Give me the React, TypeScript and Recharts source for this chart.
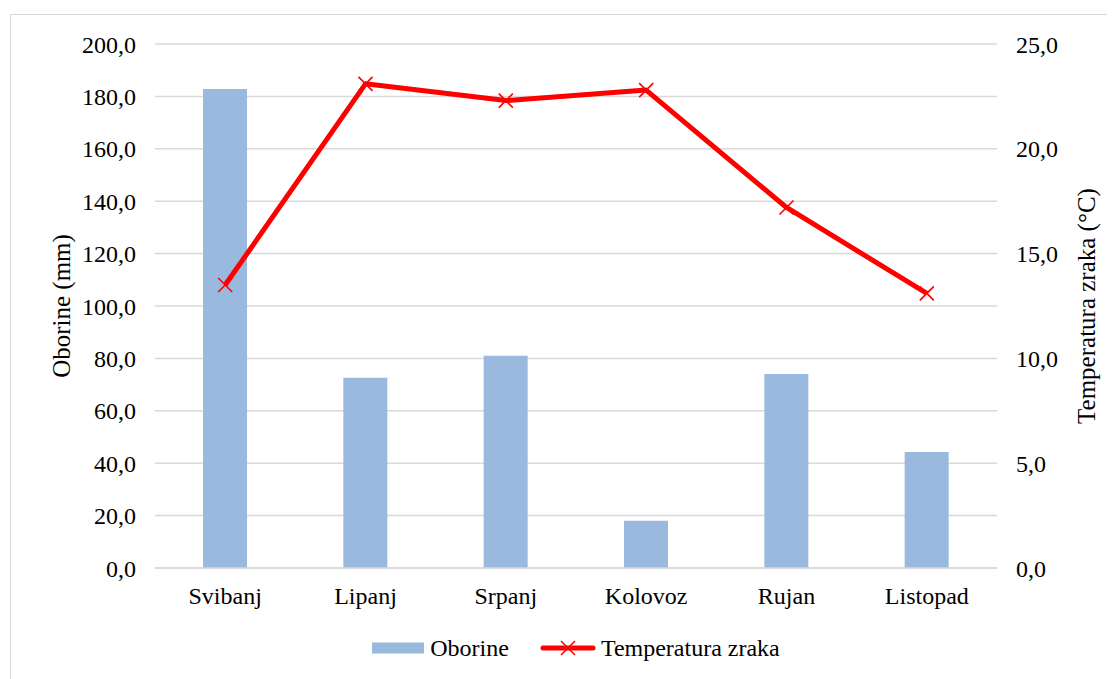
import { Bar, CartesianGrid, ComposedChart, Legend, Line, XAxis, YAxis } from "recharts";

const months = ["Svibanj", "Lipanj", "Srpanj", "Kolovoz", "Rujan", "Listopad"];
const precipitation = [182.8, 72.6, 81.0, 18.0, 74.0, 44.3];
const temperature = [13.5, 23.1, 22.3, 22.8, 17.2, 13.1];
const leftTicks = [0, 20, 40, 60, 80, 100, 120, 140, 160, 180, 200];
const rightTicks = [0, 5, 10, 15, 20, 25];

const FONT = "'Liberation Serif', 'Times New Roman', serif";
const BAR_COLOR = "#99B9DF";
const LINE_COLOR = "#FF0000";
const TICK_SIZE = 24;
const TITLE_SIZE = 25;

const chartData = months.map((m, i) => ({
  month: m,
  oborine: precipitation[i],
  temp: temperature[i],
}));

const fmt = (v: number) => v.toFixed(1).replace(".", ",");

function CrossDot(props: any) {
  const { cx, cy } = props;
  if (cx == null || cy == null) return null;
  const s = 7;
  return (
    <g>
      <line x1={cx - s} y1={cy - s} x2={cx + s} y2={cy + s} stroke={LINE_COLOR} strokeWidth={1.6} />
      <line x1={cx - s} y1={cy + s} x2={cx + s} y2={cy - s} stroke={LINE_COLOR} strokeWidth={1.6} />
    </g>
  );
}

function axisTitle(text: string, dx: number) {
  return (p: any) => {
    const vb = p.viewBox;
    const x = vb.x + dx;
    const y = vb.y + vb.height / 2;
    return (
      <text
        x={x}
        y={y}
        transform={`rotate(-90 ${x} ${y})`}
        textAnchor="middle"
        dominantBaseline="central"
        fontFamily={FONT}
        fontSize={TITLE_SIZE}
        fill="#000"
      >
        {text}
      </text>
    );
  };
}

function LegendContent() {
  return (
    <div
      style={{
        display: "flex",
        justifyContent: "center",
        alignItems: "center",
        height: 40,
        paddingLeft: 147,
        paddingRight: 118,
        fontFamily: FONT,
        fontSize: TICK_SIZE,
        color: "#000",
        boxSizing: "border-box",
      }}
    >
      <svg width={52} height={12} style={{ marginRight: 6 }}>
        <rect x={0} y={0.5} width={52} height={11} fill={BAR_COLOR} />
      </svg>
      <span>Oborine</span>
      <svg width={56} height={16} style={{ marginLeft: 31, marginRight: 5 }}>
        <line x1={3} y1={8} x2={53} y2={8} stroke={LINE_COLOR} strokeWidth={5} strokeLinecap="round" />
        <line x1={21} y1={1} x2={35} y2={15} stroke={LINE_COLOR} strokeWidth={1.6} />
        <line x1={21} y1={15} x2={35} y2={1} stroke={LINE_COLOR} strokeWidth={1.6} />
      </svg>
      <span>Temperatura zraka</span>
    </div>
  );
}

export default function App() {
  return (
    <div style={{ position: "relative", width: 1107, height: 671, overflow: "hidden" }}>
      <div
        style={{
          position: "absolute",
          left: 2,
          top: 6,
          width: 1200,
          height: 800,
          border: "1px solid #d9d9d9",
          boxSizing: "border-box",
        }}
      />
      <ComposedChart
        width={1107}
        height={671}
        data={chartData}
        margin={{ top: 36, right: 0, bottom: 11, left: 0 }}
        style={{ position: "absolute", left: 0, top: 0 }}
      >
        <CartesianGrid vertical={false} stroke="#d9d9d9" strokeWidth={1.5} yAxisId="left" />
        <XAxis
          dataKey="month"
          height={60}
          axisLine={{ stroke: "#d9d9d9", strokeWidth: 1.5 }}
          tickLine={false}
          tickSize={0}
          tickMargin={19}
          tick={{ fill: "#000", fontFamily: FONT, fontSize: TICK_SIZE }}
        />
        <YAxis
          yAxisId="left"
          width={147}
          domain={[0, 200]}
          ticks={leftTicks}
          tickFormatter={fmt}
          axisLine={false}
          tickLine={false}
          tickSize={0}
          tickMargin={19}
          tick={{ fill: "#000", fontFamily: FONT, fontSize: TICK_SIZE }}
          label={axisTitle("Oborine (mm)", 53)}
        />
        <YAxis
          yAxisId="right"
          orientation="right"
          width={118}
          domain={[0, 25]}
          ticks={rightTicks}
          tickFormatter={fmt}
          axisLine={false}
          tickLine={false}
          tickSize={0}
          tickMargin={19}
          tick={{ fill: "#000", fontFamily: FONT, fontSize: TICK_SIZE }}
          label={axisTitle("Temperatura zraka (°C)", 89)}
        />
        <Legend verticalAlign="bottom" content={() => <LegendContent />} />
        <Bar yAxisId="left" dataKey="oborine" name="Oborine" fill={BAR_COLOR} barSize={44} isAnimationActive={false} />
        <Line
          yAxisId="right"
          dataKey="temp"
          name="Temperatura zraka"
          stroke={LINE_COLOR}
          strokeWidth={5}
          strokeLinejoin="round"
          dot={<CrossDot />}
          activeDot={false}
          isAnimationActive={false}
        />
      </ComposedChart>
    </div>
  );
}
